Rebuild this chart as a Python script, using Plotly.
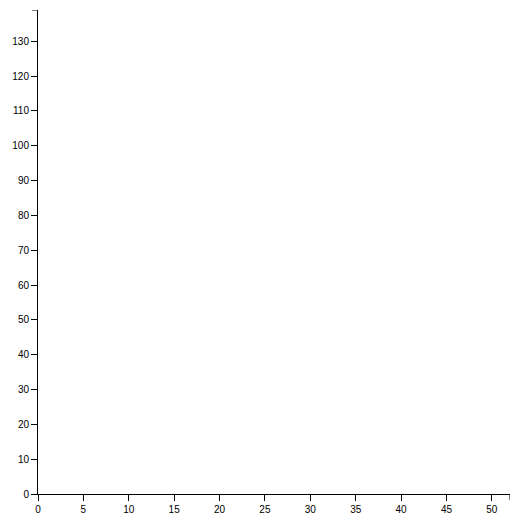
import plotly.graph_objects as go

x_values = []
y_values = []
x_ticks = list(range(0, 55, 5))
y_ticks = list(range(0, 140, 10))

fig = go.Figure(go.Scatter(x=x_values, y=y_values, mode="markers"))
axis_common = dict(showgrid=False, zeroline=False, showline=True, linecolor="#000", linewidth=1,
                   ticks="outside", ticklen=6, tickcolor="#000", tickfont=dict(family="Arial, Liberation Sans", size=10, color="#000"))
fig.update_xaxes(range=[0, 52], tickvals=x_ticks, **axis_common)
fig.update_yaxes(range=[0, 139], tickvals=y_ticks, **axis_common)
fig.add_shape(type="line", xref="x", yref="paper", x0=52, x1=52, y0=0, y1=-6/484, line=dict(color="#000", width=1))
fig.add_shape(type="line", xref="paper", yref="y", x0=0, x1=-6/472, y0=139, y1=139, line=dict(color="#000", width=1))
fig.update_layout(width=516, height=517, margin=dict(l=30, r=14, t=2, b=31),
                  plot_bgcolor="white", paper_bgcolor="white", showlegend=False)
fig.write_html("out.html")
